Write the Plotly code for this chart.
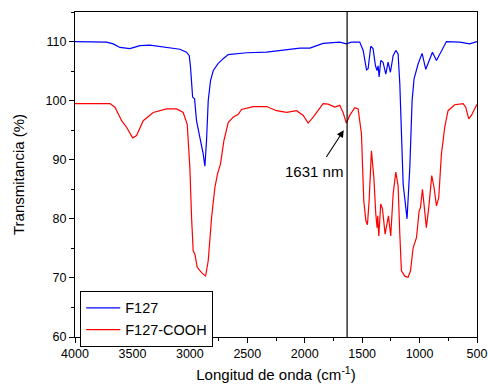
import plotly.graph_objects as go

# F127 spectrum (wavenumber cm-1, transmittance %)
f127_wn = [4000, 3725, 3667, 3609, 3522, 3435, 3348, 3203, 3087, 3029, 3005, 2994, 2976, 2959,
           2942, 2913, 2884, 2869, 2855, 2840, 2820, 2796, 2753, 2710, 2666, 2507, 2332, 2042,
           1955, 1840, 1695, 1637, 1593, 1521, 1491, 1462, 1448, 1425, 1405, 1384, 1370, 1361,
           1352, 1338, 1318, 1294, 1274, 1254, 1230, 1207, 1187, 1172, 1158, 1143, 1109, 1085,
           1065, 1048, 1013, 978, 946, 911, 888, 853, 824, 766, 650, 563, 500]
f127_t = [110.0, 109.9, 109.6, 109.0, 108.8, 109.3, 109.4, 109.0, 108.7, 108.2, 107.6, 105.6, 100.6, 100.3,
          96.6, 93.8, 91.0, 88.9, 93.2, 100.0, 103.4, 105.1, 106.3, 107.1, 107.8, 108.1, 108.2, 108.9,
          108.9, 109.7, 109.9, 109.6, 109.9, 109.9, 108.5, 105.2, 105.4, 109.2, 108.8, 105.9, 105.1, 105.9,
          104.0, 106.8, 106.5, 104.5, 106.5, 104.8, 107.6, 108.5, 107.9, 102.8, 94.4, 85.9, 80.0, 88.7,
          100.0, 103.7, 106.2, 108.0, 105.3, 107.1, 108.2, 106.8, 107.9, 110.0, 109.9, 109.6, 110.0]

# F127-COOH spectrum
cooh_wn = [4000, 3696, 3652, 3594, 3551, 3498, 3464, 3406, 3319, 3203, 3116, 3058, 3023, 3000,
           2985, 2971, 2956, 2936, 2898, 2863, 2840, 2811, 2782, 2759, 2733, 2704, 2666, 2623,
           2579, 2550, 2449, 2332, 2246, 2158, 2071, 2013, 1970, 1926, 1840, 1796, 1738, 1695,
           1666, 1637, 1608, 1564, 1535, 1506, 1486, 1468, 1454, 1439, 1419, 1398, 1381, 1370,
           1364, 1355, 1338, 1323, 1300, 1271, 1251, 1230, 1207, 1187, 1172, 1158, 1129, 1100,
           1079, 1056, 1027, 1004, 992, 975, 961, 941, 920, 894, 874, 853, 833, 810, 781, 752,
           694, 621, 598, 572, 549, 500]
cooh_t = [99.5, 99.5, 98.9, 96.6, 95.5, 93.7, 94.1, 96.6, 98.0, 98.6, 98.6, 98.0, 96.0, 88.7,
          80.2, 74.6, 74.0, 71.8, 70.9, 70.3, 72.9, 80.2, 85.3, 87.6, 89.3, 93.2, 96.3, 97.2,
          97.7, 98.5, 99.0, 99.0, 98.3, 98.0, 98.3, 97.5, 96.2, 97.2, 99.5, 99.4, 98.9, 99.2,
          98.0, 96.2, 97.5, 98.8, 98.6, 94.4, 83.1, 79.7, 79.0, 83.1, 91.5, 87.0, 80.8, 78.5,
          80.5, 77.1, 82.5, 81.7, 77.4, 80.5, 77.1, 84.2, 87.9, 85.6, 77.4, 71.2, 70.3, 70.1,
          71.2, 75.1, 76.8, 81.3, 81.9, 85.0, 82.4, 78.5, 81.9, 87.3, 85.3, 82.2, 83.6, 90.9, 95.5, 98.3,
          99.3, 99.5, 98.9, 96.9, 97.5, 99.4]

marker_wn = 1631
label_text = "1631 nm"
x_ticks = [4000, 3500, 3000, 2500, 2000, 1500, 1000, 500]
y_ticks = [60, 70, 80, 90, 100, 110]

font_family = "Liberation Sans, Arial, sans-serif"

fig = go.Figure()
fig.add_trace(go.Scatter(x=f127_wn, y=f127_t, mode="lines", name="F127",
                         line=dict(color="#0000FF", width=1.2)))
fig.add_trace(go.Scatter(x=cooh_wn, y=cooh_t, mode="lines", name="F127-COOH",
                         line=dict(color="#FF0000", width=1.2)))

fig.add_shape(type="line", xref="x", yref="paper", x0=marker_wn, x1=marker_wn, y0=0, y1=1,
              line=dict(color="black", width=1.2))

fig.add_annotation(x=1660, y=95.0, ax=1820, ay=90.2, axref="x", ayref="y", xref="x", yref="y",
                   text=" ", showarrow=True, arrowhead=2, arrowsize=1.3, arrowwidth=1.1,
                   arrowcolor="black", font=dict(size=2), borderpad=0)
fig.add_annotation(x=1915, y=88.0, xref="x", yref="y", text=label_text, showarrow=False,
                   font=dict(size=15, color="black", family=font_family))

axis_common = dict(showline=True, linecolor="black", linewidth=1.2, mirror=True,
                   ticks="outside", ticklen=5, tickwidth=1, tickcolor="black",
                   showgrid=False, zeroline=False, automargin=False,
                   tickfont=dict(size=12.5, color="black", family=font_family),
                   title_font=dict(size=15, color="black", family=font_family))

fig.update_xaxes(range=[4000, 500], tickvals=x_ticks,
                 minor=dict(ticks="outside", ticklen=3, dtick=250, tickcolor="black"),
                 title_text="Longitud de onda (cm<sup>-1</sup>)", title_standoff=9, **axis_common)
fig.update_yaxes(range=[60, 115], tickvals=y_ticks,
                 minor=dict(ticks="outside", ticklen=3, dtick=5, tickcolor="black"),
                 title_text="Transmitancia (%)", title_standoff=17, **axis_common)

fig.update_layout(
    width=488, height=387,
    margin=dict(l=75, r=11, t=12, b=50),
    plot_bgcolor="white", paper_bgcolor="white",
    font=dict(family=font_family, color="black"),
    legend=dict(x=0.013, y=0.142, xanchor="left", yanchor="top",
                bordercolor="black", borderwidth=1, bgcolor="white",
                font=dict(size=14.5, color="black", family=font_family),
                tracegroupgap=0, itemwidth=34),
)

fig.write_html("out.html", config={"displayModeBar": False},
               post_script="document.body.style.margin='0';")
